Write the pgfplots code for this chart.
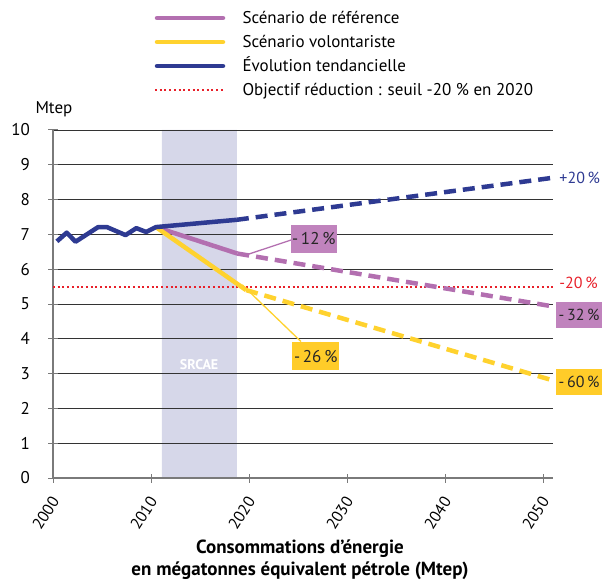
\documentclass[border=0pt]{standalone}
\usepackage{fontspec}
\setmainfont{PT Sans}
\usepackage{pgfplots}
\pgfplotsset{compat=1.18}
\definecolor{cblue}{HTML}{2E3A92}
\definecolor{cpurple}{HTML}{B36FB0}
\definecolor{cpurplebox}{HTML}{C083BD}
\definecolor{cyellow}{HTML}{FFD22E}
\definecolor{cyellowbox}{HTML}{FFCC29}
\definecolor{cred}{HTML}{E8202A}
\definecolor{cshade}{HTML}{D6D7E9}
\definecolor{caxis}{HTML}{7A7A7A}
\newcommand{\fs}[1]{\fontsize{#1}{#1}\selectfont}
\begin{document}
\begin{tikzpicture}[x=1pt,y=1pt]
\begin{axis}[
  at={(0,0)}, anchor=south west,
  scale only axis, width=500pt, height=348pt,
  xmin=2000, xmax=2051, ymin=0, ymax=10,
  axis lines*=left,
  xtick={2000,2010,...,2050}, ytick={0,1,...,10},
  ymajorgrids, grid style={black!80, line width=0.7pt},
  axis line style={caxis, line width=1.5pt},
  tick style={caxis, line width=1pt},
  tick align=center, major tick length=9pt,
  /pgf/number format/assume math mode=true,
  /pgf/number format/1000 sep={},
  x tick label style={xshift=4pt, yshift=-13pt, rotate=57, anchor=east, font=\fs{16}},
  y tick label style={xshift=-15pt, font=\fs{17}},
  clip=false,
  set layers,
]
% SRCAE shaded period
\addplot[draw=none, fill=cshade, on layer=axis background] coordinates {(2011.1,0) (2011.1,10) (2018.75,10) (2018.75,0)} \closedcycle;
% target threshold
\addplot[cred, line width=2pt, dash pattern=on 2pt off 2.7pt] coordinates {(2000,5.5) (2051,5.5)};
% reference scenario
\addplot[cpurple, line width=4.5pt] coordinates {(2010.5,7.21) (2018.8,6.45)};
\addplot[cpurple, line width=4.5pt, dash pattern=on 12pt off 7pt] coordinates {(2018.8,6.45) (2050.8,4.94)};
% voluntary scenario
\addplot[cyellow, line width=4.5pt] coordinates {(2010.5,7.21) (2019.7,5.40)};
\addplot[cyellow, line width=4.5pt, dash pattern=on 12pt off 7pt] coordinates {(2019.7,5.40) (2050.8,2.82)};
% trend
\addplot[cblue, line width=4.5pt, line join=round] coordinates {
 (2000.4,6.80) (2001.4,7.05) (2002.3,6.79) (2004.6,7.21) (2005.5,7.21)
 (2007.4,6.98) (2008.5,7.18) (2009.5,7.07) (2010.5,7.21) (2018.75,7.42)};
\addplot[cblue, line width=4.5pt, dash pattern=on 12pt off 7pt] coordinates {(2018.75,7.42) (2050.8,8.62)};
% leaders
\draw[cpurple, line width=1.3pt] (axis cs:2019.6,6.40) -- (axis cs:2024.3,6.84);
\draw[cyellow, line width=1.3pt] (axis cs:2019.3,5.55) -- (axis cs:2025.3,3.92);
% annotations
\node[white, font=\bfseries\fs{14}] at (axis cs:2014.9,3.25) {SRCAE};
\node[fill=cpurplebox, text=black!85, font=\fs{17}, minimum width=46pt, minimum height=28pt, inner sep=1pt] at (axis cs:2026.6,6.87) {-\,12\,\%};
\node[fill=cyellowbox, text=black!85, font=\fs{17}, minimum width=47pt, minimum height=28pt, inner sep=1pt] at (axis cs:2026.8,3.50) {-\,26\,\%};
\node[cblue, font=\fs{16}, anchor=west] at (axis cs:2051.3,8.62) {+20\,\%};
\node[cred, font=\fs{16}, anchor=west] at (axis cs:2051.3,5.62) {-20\,\%};
\node[fill=cpurplebox, text=black!85, font=\fs{16}, minimum width=46pt, minimum height=26pt, inner sep=1pt, anchor=west] at (axis cs:2051.3,4.68) {-\,32\,\%};
\node[fill=cyellowbox, text=black!85, font=\fs{16}, minimum width=46pt, minimum height=26pt, inner sep=1pt, anchor=west] at (axis cs:2051.3,2.76) {-\,60\,\%};
\end{axis}
% y unit
\node[anchor=west, font=\fs{17}] at (-21,369) {Mtep};
% x label
\node[align=center, font=\bfseries\fontsize{19}{22}\selectfont] at (247,-82) {Consommations d’énergie\\en mégatonnes équivalent pétrole (Mtep)};
% legend
\draw[cpurple, line width=4.5pt, line cap=round] (104,460) -- (170,460);
\draw[cyellow, line width=4.5pt, line cap=round] (104,436) -- (170,436);
\draw[cblue, line width=4.5pt, line cap=round] (104,412) -- (170,412);
\draw[cred, line width=2pt, dash pattern=on 2pt off 2.7pt] (102,388) -- (172,388);
\node[anchor=base west, font=\fs{17}] at (186,454) {Scénario de référence};
\node[anchor=base west, font=\fs{17}] at (186,430) {Scénario volontariste};
\node[anchor=base west, font=\fs{17}] at (186,406) {Évolution tendancielle};
\node[anchor=base west, font=\fs{17}] at (186,382) {Objectif réduction : seuil -20 \% en 2020};
\pgfresetboundingbox
\path[use as bounding box] (-53,-104) rectangle (549,478);
\end{tikzpicture}
\end{document}
